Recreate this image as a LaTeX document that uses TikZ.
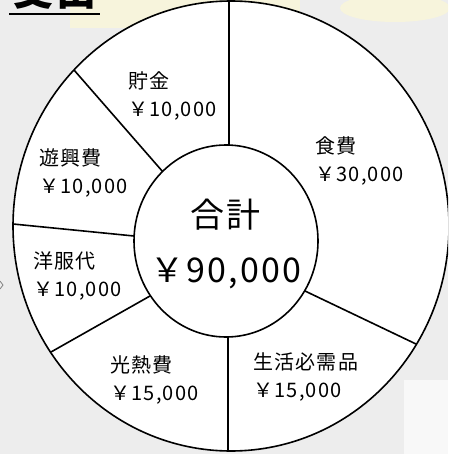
\documentclass[tikz,border=0pt]{standalone}
\usepackage{fontspec}
\newfontfamily\jp[LetterSpace=6]{Noto Sans CJK JP}
\definecolor{bggray}{HTML}{EDEDED}
\definecolor{paleyel}{HTML}{F7F4DC}
\tikzset{
  part/.style={font=\jp\fontsize{20}{28}\selectfont, align=left, anchor=west, inner sep=0pt},
  sum/.style={font=\jp\fontsize{34}{55}\selectfont, align=center, inner sep=0pt},
  edge/.style={line width=1.6pt}
}
\begin{document}
\begin{tikzpicture}[x=1pt,y=-1pt]
  \useasboundingbox (0,0) rectangle (448,454);
  \clip (0,0) rectangle (448,454);
  % background
  \fill[bggray] (0,0) rectangle (448,454);
  \fill[paleyel] (70,0) rectangle (300,28);
  \fill[paleyel] (395,8) ellipse [x radius=55, y radius=14];
  \fill[white!60!bggray] (404,380) rectangle (448,454);
  \draw[gray, line width=0.8pt] (0,281) -- (3,285) -- (0,289);

  % title
  \node[font=\jp\bfseries\fontsize{40}{40}\selectfont, anchor=base, inner sep=0pt] (title) at (55,6) {支出};
  \draw[line width=2.2pt] (9,14) -- (100,14);

  % pie
  \draw[edge, fill=white] (231,226) ellipse [x radius=218, y radius=225];
  \coordinate (o1) at (229,0);   \coordinate (i1) at (229,146);
  \coordinate (o2) at (74,70);   \coordinate (i2) at (163,172);
  \coordinate (o3) at (13,224);  \coordinate (i3) at (134,236);
  \coordinate (o4) at (51,352);  \coordinate (i4) at (150,296);
  \coordinate (o5) at (228,451); \coordinate (i5) at (228,336);
  \coordinate (o6) at (416,344); \coordinate (i6) at (305,291);
  \foreach \k in {1,...,6}
    \draw[edge] (o\k) -- (i\k);
  \draw[edge, fill=white] (226,241) ellipse [x radius=92, y radius=96];

  % labels
  \node[part] (savings) at (128,96)  {貯金\\￥10,000};
  \node[part] (food)    at (315,161) {食費\\￥30,000};
  \node[part] (leisure) at (39,173)  {遊興費\\￥10,000};
  \node[part] (clothes) at (33,276)  {洋服代\\￥10,000};
  \node[part] (energy)  at (110,380) {光熱費\\￥15,000};
  \node[part] (goods)   at (253,377) {生活必需品\\￥15,000};
  \node[sum]  (total)   at (226,244) {合計\\￥90,000};
\end{tikzpicture}
\end{document}
